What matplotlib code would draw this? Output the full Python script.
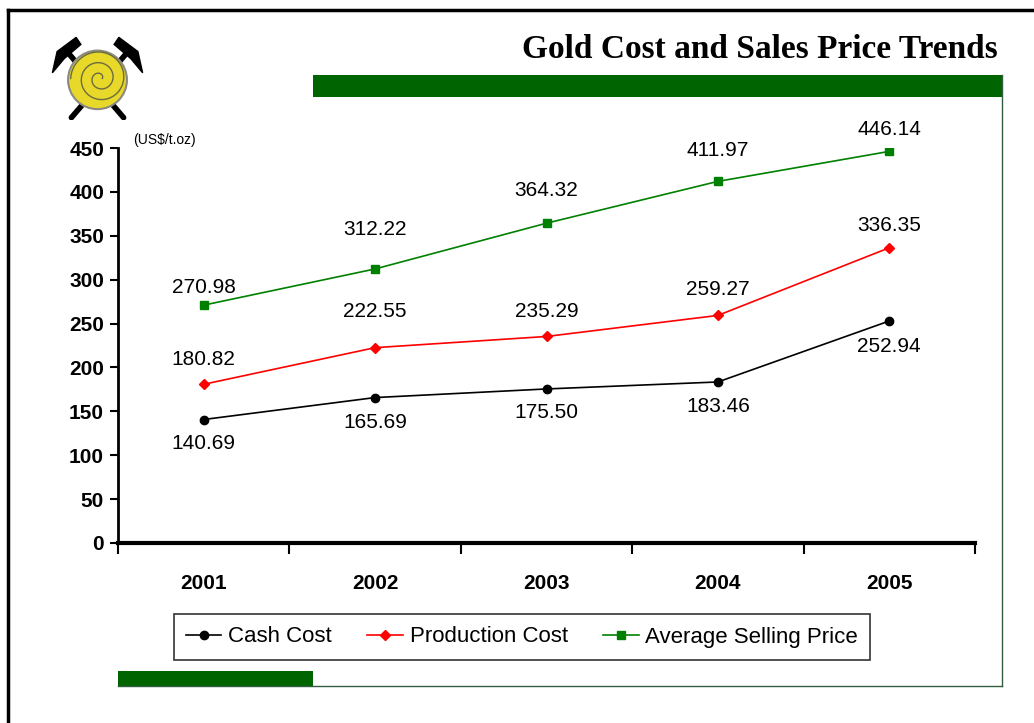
import numpy as np
import matplotlib
matplotlib.use("Agg")
import matplotlib.pyplot as plt
from matplotlib.patches import Rectangle, Circle, Polygon
from matplotlib.lines import Line2D

years = ['2001', '2002', '2003', '2004', '2005']
cash_cost = [140.69, 165.69, 175.50, 183.46, 252.94]
production_cost = [180.82, 222.55, 235.29, 259.27, 336.35]
selling_price = [270.98, 312.22, 364.32, 411.97, 446.14]

plt.rcParams['font.family'] = ['Liberation Sans', 'DejaVu Sans']

fig = plt.figure(figsize=(10.34, 7.23), dpi=100)

# slide frame and decorations (figure pixel coords -> fraction)
W, H = 1034, 723
def fx(x):
    return x / W
def fy(y):
    return 1 - y / H

fig.add_artist(Line2D([fx(8), fx(8)], [fy(10), 0], color='black', lw=2.5))
fig.add_artist(Line2D([fx(8), 1], [fy(10), fy(10)], color='black', lw=2.5))
fig.add_artist(Rectangle((fx(313), fy(97)), fx(1002) - fx(313), fy(75) - fy(97),
                         color='#006400', lw=0))
fig.add_artist(Rectangle((fx(118), fy(686)), fx(313) - fx(118), fy(671) - fy(686),
                         color='#006400', lw=0))
fig.add_artist(Line2D([fx(1002), fx(1002)], [fy(75), fy(686)], color='#2e5e3e', lw=1))
fig.add_artist(Line2D([fx(118), fx(1002)], [fy(686), fy(686)], color='#2e5e3e', lw=1))

fig.text(fx(998), fy(50), 'Gold Cost and Sales Price Trends', ha='right', va='center',
         fontsize=24, fontweight='bold', family='Liberation Serif')

# logo
lax = fig.add_axes([fx(50), fy(120), fx(95), fy(35) - fy(120)])
lax.set_xlim(-1, 1)
lax.set_ylim(-0.9, 0.9)
lax.axis('off')
lax.plot([-0.6, 0.55], [0.5, -0.85], color='black', lw=4, solid_capstyle='round', zorder=1)
lax.plot([0.6, -0.55], [0.5, -0.85], color='black', lw=4, solid_capstyle='round', zorder=1)
lax.add_patch(Polygon([[-0.95, 0.1], [-0.85, 0.55], [-0.45, 0.85], [-0.35, 0.7], [-0.7, 0.4]],
                      color='black', zorder=1))
lax.add_patch(Polygon([[0.95, 0.1], [0.85, 0.55], [0.45, 0.85], [0.35, 0.7], [0.7, 0.4]],
                      color='black', zorder=1))
lax.add_patch(Circle((0.0, -0.05), 0.62, fc='#e8d829', ec='#8a8a80', lw=1.5, zorder=3))
t = np.linspace(0, 5 * np.pi, 200)
r = 0.05 + 0.036 * t
lax.plot(0.05 + r * np.cos(t), -0.02 + r * np.sin(t), color='#6b6b40', lw=1, zorder=4)

# main chart
ax = fig.add_axes([fx(118), fy(543), fx(975) - fx(118), fy(148) - fy(543)])
x = np.arange(len(years))
ax.plot(x, cash_cost, color='black', marker='o', ms=6, lw=1.2)
ax.plot(x, production_cost, color='red', marker='D', ms=5, lw=1.2)
ax.plot(x, selling_price, color='#008000', marker='s', ms=5.5, lw=1.2)

green_dy = [18, 39, 33, 31, 22]
red_dy = [25, 36, 25, 26, 22]
black_dy = [-24, -25, -24, -25, -26]
for series, dys in ((selling_price, green_dy), (production_cost, red_dy), (cash_cost, black_dy)):
    for xi, v, dy in zip(x, series, dys):
        ax.annotate(f'{v:.2f}', (xi, v), xytext=(0, dy), textcoords='offset pixels',
                    ha='center', va='center', fontsize=15)

ax.set_xlim(-0.5, 4.5)
ax.set_ylim(0, 450)
ax.set_yticks(range(0, 451, 50))
ax.set_xticks(np.arange(-0.5, 4.6, 1))
ax.set_xticklabels([])
ax.set_xticks(x, minor=True)
ax.set_xticklabels(years, minor=True, fontsize=15, fontweight='bold')
ax.tick_params(axis='x', which='minor', length=0, pad=22)
ax.tick_params(axis='x', which='major', length=8, width=1.5, direction='out')
ax.tick_params(axis='y', length=6, width=1.5, direction='out', labelsize=15, pad=4)
for lab in ax.get_yticklabels():
    lab.set_fontweight('bold')
ax.spines['top'].set_visible(False)
ax.spines['right'].set_visible(False)
ax.spines['left'].set_linewidth(2)
ax.spines['bottom'].set_linewidth(3)
ax.patch.set_alpha(0)

fig.text(fx(133), fy(140), '(US$/t.oz)', ha='left', va='center', fontsize=10)

handles = [Line2D([], [], color='black', marker='o', ms=6, lw=1.2),
           Line2D([], [], color='red', marker='D', ms=5, lw=1.2),
           Line2D([], [], color='#008000', marker='s', ms=5.5, lw=1.2)]
leg = fig.legend(handles, ['Cash Cost', 'Production Cost', 'Average Selling Price'],
                 loc='center', bbox_to_anchor=(fx(522), fy(637)), ncol=3, fontsize=16,
                 frameon=True, fancybox=False, edgecolor='black', handlelength=1.6,
                 handletextpad=0.3, columnspacing=1.6, borderpad=0.55)
leg.get_frame().set_linewidth(1.2)

fig.savefig('out.png', dpi=100)
